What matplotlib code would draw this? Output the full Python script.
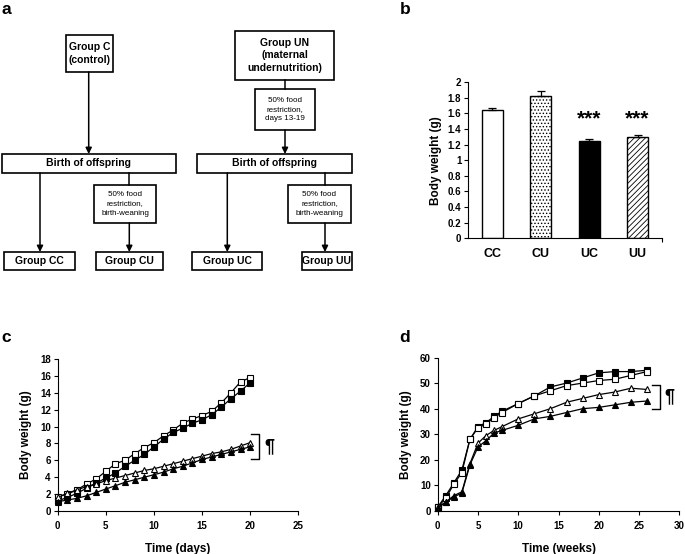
import numpy as np
import matplotlib
matplotlib.use('Agg')
import matplotlib.pyplot as plt
from matplotlib.patches import Rectangle

plt.rcParams['font.family'] = ['Liberation Sans', 'DejaVu Sans']
plt.rcParams['hatch.linewidth'] = 0.6

# panel b data
groups = ['CC', 'CU', 'UC', 'UU']
birth_weight = [1.64, 1.82, 1.25, 1.29]
birth_err = [0.03, 0.06, 0.02, 0.03]
stars = ['', '', '***', '***']

# panel c data (days 0-20)
days = list(range(21))
c_open_sq = [1.7, 2.0, 2.5, 3.2, 3.8, 4.7, 5.6, 6.0, 6.8, 7.5, 8.1, 8.9, 9.6, 10.4, 10.9, 11.3, 11.8, 12.8, 14.0, 15.3, 15.8]
c_fill_sq = [1.2, 1.6, 2.1, 2.7, 3.3, 3.9, 4.5, 5.3, 6.0, 6.7, 7.6, 8.5, 9.3, 9.8, 10.4, 10.8, 11.4, 12.3, 13.3, 14.2, 15.2]
c_open_tri = [1.6, 2.1, 2.5, 2.9, 3.2, 3.6, 3.9, 4.2, 4.5, 4.8, 5.0, 5.3, 5.6, 5.9, 6.2, 6.5, 6.8, 7.0, 7.3, 7.7, 8.1]
c_fill_tri = [1.1, 1.3, 1.5, 1.8, 2.2, 2.6, 3.0, 3.4, 3.7, 4.0, 4.3, 4.6, 5.0, 5.3, 5.7, 6.1, 6.4, 6.7, 7.0, 7.3, 7.6]

# panel d data (weeks)
weeks = [0, 1, 2, 3, 4, 5, 6, 7, 8, 10, 12, 14, 16, 18, 20, 22, 24, 26]
d_fill_sq = [1.5, 6, 11, 16, 28, 33, 34.5, 37, 39, 42, 45, 48.5, 50, 52, 54, 54.5, 54.5, 55]
d_open_sq = [1.5, 5, 10.5, 15, 28, 32.5, 34, 36.5, 38.5, 42, 45, 47, 49, 50, 51, 51.5, 53, 54.5]
d_open_tri = [1.5, 3.5, 6, 7.5, 18.5, 26.5, 29.5, 31.5, 33, 36, 38, 40, 42.5, 44, 45.5, 46.5, 48, 47.5]
d_fill_tri = [1, 3.5, 5.5, 7, 18, 25, 27.5, 30.5, 31.5, 33.5, 36, 37, 38.5, 40, 40.5, 41.5, 42.5, 43]

W, H = 685, 554
fig = plt.figure(figsize=(W / 100, H / 100), dpi=100)


def px_rect(x0, y0, x1, y1):
    """axes rect from pixel box (top-left origin)"""
    return [x0 / W, 1 - y1 / H, (x1 - x0) / W, (y1 - y0) / H]


# ---------- panel a : flow chart in pixel coordinates ----------
axa = fig.add_axes([0, 0, 1, 1], zorder=0)
axa.set_xlim(0, W)
axa.set_ylim(H, 0)
axa.axis('off')


def box(x0, y0, x1, y1, text, size=7.5, weight='bold', ls=1.4):
    axa.add_patch(Rectangle((x0, y0), x1 - x0, y1 - y0, fill=False, ec='black', lw=1.2))
    axa.text((x0 + x1) / 2, (y0 + y1) / 2, text, ha='center', va='center',
             fontsize=size, fontweight=weight, linespacing=ls)


def arrow(x, y0, y1):
    axa.annotate('', xy=(x, y1), xytext=(x, y0),
                 arrowprops=dict(arrowstyle='-|>', color='black', lw=1.1, mutation_scale=9,
                                 shrinkA=0, shrinkB=0))


def line(x, y0, y1):
    axa.plot([x, x], [y0, y1], color='black', lw=1.1)


small = dict(size=5.8, weight='normal', ls=1.5)
box(66, 35, 113, 72, 'Group C\n(control)')
arrow(88.7, 72, 154)
box(2, 154, 176, 173, 'Birth of offspring')
arrow(40, 173, 252)
line(129.3, 173, 185)
box(94, 185, 156, 223, '50% food\nrestriction,\nbirth-weaning', **small)
arrow(129.3, 223, 252)
box(4, 252, 75, 270, 'Group CC')
box(96, 252, 163, 270, 'Group CU')

box(235, 31, 334, 80, 'Group UN\n(maternal\nundernutrition)', ls=1.3)
line(285, 80, 89)
box(255, 89, 315, 130, '50% food\nrestriction,\ndays 13-19', **small)
arrow(285, 130, 154)
box(197, 154, 352, 173, 'Birth of offspring')
arrow(227.3, 173, 252)
line(325, 173, 185)
box(288, 185, 351, 223, '50% food\nrestriction,\nbirth-weaning', **small)
arrow(325, 223, 252)
box(192, 252, 262, 270, 'Group UC')
box(302, 252, 352, 270, 'Group UU')

for lab, x, y in [('a', 1, 10), ('b', 400, 10), ('c', 1, 338), ('d', 399, 337)]:
    axa.text(x, y, lab, fontsize=12.5, fontweight='bold', ha='left', va='center')

# ---------- panel b : bar chart ----------
axb = fig.add_axes(px_rect(468.3, 82, 661.7, 238.3), zorder=1)
xpos = np.arange(len(groups)) + 0.5
faces = ['white', 'white', 'black', 'white']
hatches = ['', '.....', '', '//////']
for i in range(len(groups)):
    axb.bar(xpos[i], birth_weight[i], width=0.43, color=faces[i], edgecolor='black',
            hatch=hatches[i], lw=1.0, zorder=2)
axb.errorbar(xpos, birth_weight, yerr=[[0] * 4, birth_err], fmt='none', ecolor='black',
             elinewidth=0.9, capsize=3, capthick=0.9, zorder=3)
for i, s in enumerate(stars):
    if s:
        axb.text(xpos[i], 1.40, s, ha='center', va='bottom', fontsize=15, fontweight='bold')
axb.set_xlim(0, 4)
axb.set_ylim(0, 2)
axb.set_yticks(np.arange(0, 2.01, 0.2))
axb.set_yticklabels(['0', '0.2', '0.4', '0.6', '0.8', '1', '1.2', '1.4', '1.6', '1.8', '2'])
axb.set_xticks([4])
axb.set_xticklabels([''])
for i, g in enumerate(groups):
    axb.text(xpos[i], -0.2, g, ha='center', va='center', fontsize=9, fontweight='bold')
axb.set_ylabel('Body weight (g)', fontsize=8.5, fontweight='bold', labelpad=4)
axb.spines['top'].set_visible(False)
axb.spines['right'].set_visible(False)
axb.tick_params(axis='both', labelsize=7, length=3, width=0.8, pad=2)
for t in axb.get_yticklabels():
    t.set_fontweight('bold')


# ---------- panels c and d : growth curves ----------
def style_line_ax(ax):
    ax.spines['top'].set_visible(False)
    ax.spines['right'].set_visible(False)
    ax.tick_params(axis='both', labelsize=7, length=3, width=0.8, pad=2)
    ax.tick_params(axis='x', pad=4)
    for t in ax.get_xticklabels() + ax.get_yticklabels():
        t.set_fontweight('bold')


def series(ax, x, y, marker, fill):
    ax.plot(x, y, color='black', lw=0.9, marker=marker, markersize=3.9 if marker == 's' else 4.3,
            markerfacecolor='black' if fill else 'white', markeredgecolor='black',
            markeredgewidth=0.8, clip_on=False, zorder=3)


axc = fig.add_axes(px_rect(57.7, 359, 298.3, 511), zorder=1)
series(axc, days, c_open_sq, 's', False)
series(axc, days, c_fill_sq, 's', True)
series(axc, days, c_open_tri, '^', False)
series(axc, days, c_fill_tri, '^', True)
axc.plot([20.05, 20.95, 20.95, 20.05], [9.1, 9.1, 6.2, 6.2], color='black', lw=1.0)
axc.text(21.5, 7.65, '¶', fontsize=13, fontweight='bold', ha='left', va='center')
axc.set_xlim(0, 25)
axc.set_ylim(0, 18)
axc.set_xticks(range(0, 26, 5))
axc.set_yticks(range(0, 19, 2))
axc.set_xlabel('Time (days)', fontsize=8.5, fontweight='bold', labelpad=9)
axc.set_ylabel('Body weight (g)', fontsize=8.5, fontweight='bold', labelpad=6)
style_line_ax(axc)

axd = fig.add_axes(px_rect(437.7, 357.5, 679.3, 511), zorder=1)
series(axd, weeks, d_fill_sq, 's', True)
series(axd, weeks, d_open_sq, 's', False)
series(axd, weeks, d_open_tri, '^', False)
series(axd, weeks, d_fill_tri, '^', True)
axd.plot([26.6, 27.6, 27.6, 26.6], [49.4, 49.4, 39.8, 39.8], color='black', lw=1.0)
axd.text(28.1, 44.6, '¶', fontsize=13, fontweight='bold', ha='left', va='center')
axd.set_xlim(0, 30)
axd.set_ylim(0, 60)
axd.set_xticks(range(0, 31, 5))
axd.set_yticks(range(0, 61, 10))
axd.set_xlabel('Time (weeks)', fontsize=8.5, fontweight='bold', labelpad=9)
axd.set_ylabel('Body weight (g)', fontsize=8.5, fontweight='bold', labelpad=6)
style_line_ax(axd)

fig.savefig('out.png', dpi=100)
